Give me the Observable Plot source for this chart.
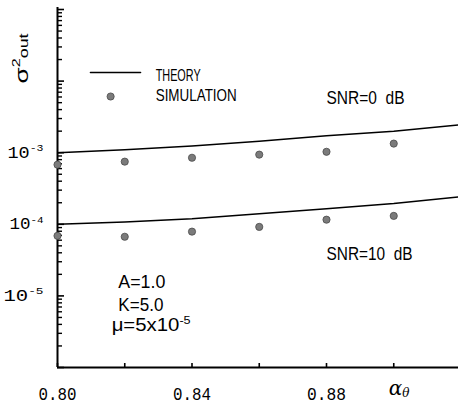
<!DOCTYPE html>
<html><head><meta charset="utf-8">
<script src="https://cdn.jsdelivr.net/npm/d3@7"></script>
<script src="https://cdn.jsdelivr.net/npm/@observablehq/plot@0.6"></script>
<style>body{margin:0;background:#fff}#chart svg{display:block}#chart text{white-space:pre}</style>
</head><body><div id="chart"></div>
<script>
// ---- data ----
const alphaTheory = [0.80, 0.82, 0.84, 0.86, 0.88, 0.90, 0.92];
const theorySNR0  = [1.0e-3, 1.10e-3, 1.24e-3, 1.45e-3, 1.72e-3, 2.0e-3, 2.45e-3];
const theorySNR10 = [1.0e-4, 1.08e-4, 1.20e-4, 1.40e-4, 1.65e-4, 1.95e-4, 2.42e-4];
const alphaSim    = [0.80, 0.82, 0.84, 0.86, 0.88, 0.90];
const simSNR0     = [6.8e-4, 7.5e-4, 8.5e-4, 9.4e-4, 1.03e-3, 1.34e-3];
const simSNR10    = [6.9e-5, 6.7e-5, 7.9e-5, 9.2e-5, 1.16e-4, 1.31e-4];
const xTicks      = [0.80, 0.82, 0.84, 0.86, 0.88, 0.90];
const xTickLabels = [0.80, 0.84, 0.88];
const yMajor      = [1e-6, 1e-5, 1e-4, 1e-3, 1e-2, 1e-1];
const yLabeled    = [1e-5, 1e-4, 1e-3];
const yLabelExp   = [-5, -4, -3];
const minorMult   = [2, 3, 4, 5, 6, 7, 8, 9];
const legendText  = ["THEORY", "SIMULATION"];
const curveLabels = ["SNR=0  dB", "SNR=10  dB"];
const paramText   = ["A=1.0", "K=5.0", "μ=5x10^{-5}"];

// ---- tables built from arrays ----
const theory = [
  ...alphaTheory.map((a, i) => ({a, v: theorySNR0[i], s: "0"})),
  ...alphaTheory.map((a, i) => ({a, v: theorySNR10[i], s: "10"}))
];
const sim = [
  ...alphaSim.map((a, i) => ({a, v: simSNR0[i]})),
  ...alphaSim.map((a, i) => ({a, v: simSNR10[i]}))
];
const yMinor = yMajor.slice(0, -1).flatMap(d => minorMult.map(m => m * d));
const expOf = new Map(yLabeled.map((d, i) => [d, yLabelExp[i]]));

const W = 458, H = 405, ML = 57, MT = 9, MB = 38, MR = 0;
const frameW = W - ML - MR, frameH = H - MT - MB;
const pxPerX = 3362.5, pxPerDecade = frameH / 5;
const x0 = 0.80, yBottom = 1e-6;
const SANS = "'Liberation Sans','DejaVu Sans',sans-serif";
const MONO = "'Liberation Mono','DejaVu Sans Mono',monospace";
const dotFill = "#7b7b7b", dotStroke = "#4a4a4a";
const yTickEnd = (len) => x0 + len / pxPerX;
const xTickTop = yBottom * Math.pow(10, 4 / pxPerDecade);

const chart = Plot.plot({
  width: W, height: H,
  marginLeft: ML, marginRight: MR, marginTop: MT, marginBottom: MB,
  style: {background: "#fff", color: "#000", fontFamily: SANS},
  x: {domain: [x0, x0 + frameW / pxPerX], label: null},
  y: {type: "log", domain: [yBottom, 1e-1], label: null},
  marks: [
    Plot.ruleX([x0], {stroke: "#000", strokeWidth: 2, insetTop: -2}),
    Plot.ruleY([yBottom], {stroke: "#000", strokeWidth: 2}),
    Plot.ruleY(yMinor, {y: d => d, x1: x0, x2: yTickEnd(5), stroke: "#000", strokeWidth: 1.4}),
    Plot.ruleY(yMajor, {y: d => d, x1: x0, x2: yTickEnd(7), stroke: "#000", strokeWidth: 1.6}),
    Plot.ruleX(xTicks, {x: d => d, y1: yBottom, y2: xTickTop, stroke: "#000", strokeWidth: 1.6}),
    Plot.axisY({ticks: yLabeled, tickSize: 0, tickPadding: 14, fontSize: 16, fontFamily: MONO,
      tickFormat: d => "10^{" + expOf.get(d) + "}", label: null}),
    Plot.axisX({ticks: xTickLabels, tickSize: 0, tickPadding: 20, fontSize: 18, fontFamily: MONO,
      tickFormat: d3.format(".2f"), label: null}),
    Plot.line(theory, {x: "a", y: "v", z: "s", stroke: "#000", strokeWidth: 1.5, clip: true}),
    Plot.dot(sim, {x: "a", y: "v", r: 3.6, fill: dotFill, stroke: dotStroke, strokeWidth: 0.8}),
    Plot.line([{a: 0.8098, v: 1.318e-2}, {a: 0.8247, v: 1.318e-2}], {x: "a", y: "v", stroke: "#000", strokeWidth: 1.5}),
    Plot.dot([{a: 0.8158, v: 6.09e-3}], {x: "a", y: "v", r: 3.6, fill: dotFill, stroke: dotStroke, strokeWidth: 0.8}),
    Plot.text([{a: 0.8292, v: 1.178e-2, t: legendText[0]}, {a: 0.8292, v: 6.29e-3, t: legendText[1]}],
      {x: "a", y: "v", text: "t", textAnchor: "start", fontSize: 17, fontFamily: SANS}),
    Plot.text([{a: 0.8800, v: 5.81e-3, t: curveLabels[0]}, {a: 0.8800, v: 3.85e-5, t: curveLabels[1]}],
      {x: "a", y: "v", text: "t", textAnchor: "start", fontSize: 18, fontFamily: SANS}),
    Plot.text([{a: 0.8181, v: 1.563e-5, t: paramText[0]}, {a: 0.8181, v: 7.35e-6, t: paramText[1]}, {a: 0.8161, v: 3.86e-6, t: paramText[2]}],
      {x: "a", y: "v", text: "t", textAnchor: "start", fontSize: 18, fontFamily: SANS}),
    Plot.text([{a: 0.7911, v: 9.26e-3, t: "σ^{2}~{out}"}],
      {x: "a", y: "v", text: "t", textAnchor: "start", lineAnchor: "bottom", fontSize: 19, fontFamily: SANS}),
    Plot.text([{a: 0.8985, v: 5.09e-7, t: "α_{θ}"}],
      {x: "a", y: "v", text: "t", textAnchor: "start", fontSize: 20, fontFamily: "'DejaVu Serif',serif", fontStyle: "italic"})
  ]
});
document.getElementById("chart").appendChild(chart);

const widths = {
  "THEORY": 45, "SIMULATION": 81, "SNR=0  dB": 78, "SNR=10  dB": 86,
  "A=1.0": 47, "K=5.0": 45, "μ=5x10^{-5}": 79,
  "0.80": 38, "0.84": 38, "0.88": 39,
  "10^{-5}": 40, "10^{-4}": 34, "10^{-3}": 36,
  "σ^{2}~{out}": 50
};
const sx = chart.scale("x"), sy = chart.scale("y");
chart.querySelectorAll("text").forEach(t => {
  const raw = t.textContent;
  if (raw === "σ^{2}~{out}") {
    const px = sx.apply(0.7911), py = sy.apply(9.26e-3);
    t.removeAttribute("x"); t.removeAttribute("y");
    t.setAttribute("transform", `translate(${px},${py}) rotate(-90)`);
  }
  if (/[\^_~]\{/.test(raw)) {
    const fs = parseFloat(getComputedStyle(t).fontSize) || 16;
    t.textContent = "";
    let cur = 0;
    const re = /([\^_~])\{([^}]*)\}|([^\^_~]+)/g;
    let m;
    while ((m = re.exec(raw))) {
      const ts = document.createElementNS("http://www.w3.org/2000/svg", "tspan");
      let size = fs, off = 0, txt = m[3];
      if (m[1]) {
        txt = m[2];
        if (m[1] === "^") { size = fs * 0.62; off = -fs * 0.42; }
        else if (m[1] === "_") { size = fs * 0.6; off = fs * 0.12; }
        else { size = fs * 0.68; off = 0; }
      }
      ts.setAttribute("font-size", size);
      if (off !== cur) ts.setAttribute("dy", off - cur);
      cur = off;
      ts.textContent = txt;
      t.appendChild(ts);
    }
  }
  if (widths[raw]) {
    t.setAttribute("textLength", widths[raw]);
    t.setAttribute("lengthAdjust", "spacingAndGlyphs");
  }
});
</script>
</body></html>
